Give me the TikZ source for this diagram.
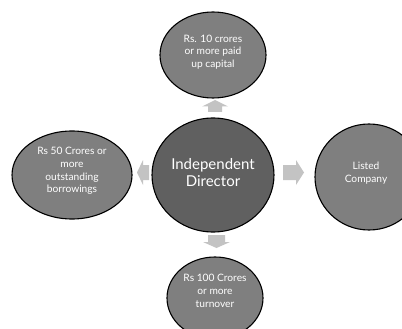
\documentclass[tikz,border=0pt]{standalone}
\usepackage{fontspec}
\setmainfont{Lato}
\begin{document}
\begin{tikzpicture}[x=1pt,y=-1pt,
  lbl/.style={text=white, align=center, inner sep=0pt, font=\fontsize{10.2}{12.8}\selectfont},
  hublbl/.style={lbl, font=\fontsize{15}{17}\selectfont},
  bub/.style={line width=1.1pt, draw=black, fill=bubgray},
  hubbub/.style={bub, fill=hubgray},
  blk/.style={fill=arrgray, draw=none}]
\definecolor{bubgray}{HTML}{7F7F7F}
\definecolor{hubgray}{HTML}{606060}
\definecolor{arrgray}{HTML}{C3C3C3}
\useasboundingbox (0,0) rectangle (402,329);
\begin{scope}
\clip (0,0) rectangle (402,329);
\path[bub] (213,55) ellipse [x radius=53, y radius=43];
\path[hubbub] (213,175) ellipse [x radius=61, y radius=57];
\path[bub] (72,175) ellipse [x radius=60, y radius=44];
\path[bub] (369,177) ellipse [x radius=54, y radius=53];
\path[bub] (215,298) ellipse [x radius=48, y radius=41];
\end{scope}
% labels
\node[lbl] (top) at (213,52) {Rs. 10 crores\\or more paid\\up capital};
\node[hublbl] (hub) at (213,173) {Independent\\Director};
\node[lbl] (left) at (72,171) {Rs 50 Crores or\\more\\outstanding\\borrowings};
\node[lbl] (right) at (366,173) {Listed\\Company};
\node[lbl] (bottom) at (215,291) {Rs 100 Crores\\or more\\turnover};
% block arrows
\path[blk] (215,100) -- (228,106.5) -- (222,106.5) -- (222,112) -- (208,112) -- (208,106.5) -- (202,106.5) -- cycle;
\path[blk] (304,172.5) -- (296,160) -- (296,165) -- (283,165) -- (283,180) -- (296,180) -- (296,185) -- cycle;
\path[blk] (137,172.5) -- (143,160) -- (143,165) -- (149,165) -- (149,180) -- (143,180) -- (143,185) -- cycle;
\path[blk] (216.5,248) -- (230,242) -- (225,242) -- (225,235) -- (208,235) -- (208,242) -- (203,242) -- cycle;
\end{tikzpicture}
\end{document}
